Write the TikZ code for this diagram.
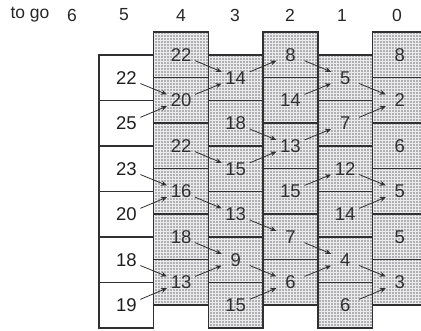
\documentclass[tikz,border=0pt]{standalone}
\usepackage{fontspec}
\setmainfont{Liberation Sans}
\usetikzlibrary{arrows.meta}
\definecolor{ink}{HTML}{303030}
\definecolor{boxgray}{HTML}{B0B0B4}
\tikzset{
  cell/.style={draw=ink, line width=1.5pt, minimum width=54.7pt, minimum height=45.5pt,
    inner sep=0pt, outer sep=0pt, anchor=north west},
  shadedcell/.style={cell, fill=boxgray,
    path picture={\draw[white, line width=0.45pt, opacity=0.75, step=3pt]
      (path picture bounding box.south west) grid (path picture bounding box.north east);}},
  plaincell/.style={cell, fill=white},
  num/.style={circle, minimum size=30pt, inner sep=0pt, font=\fontsize{18.5}{18.5}\selectfont, text=ink},
  plainnum/.style={num, text=black!88},
  arr/.style={draw=ink, line width=0.8pt, -{Stealth[length=6pt,width=5pt]}},
  hdr/.style={font=\fontsize{17.5}{17.5}\selectfont, text=black!85}
}
\begin{document}
\begin{tikzpicture}[x=1pt,y=1pt]
\useasboundingbox (0,0) rectangle (421,330);
% header
\node[hdr] (togo) at (30,315) {to go};
\node[hdr] (h6) at (72,315) {6};
\node[hdr] (h5) at (124,315) {5};
\node[hdr] (h4) at (181,315) {4};
\node[hdr] (h3) at (235,315) {3};
\node[hdr] (h2) at (290,315) {2};
\node[hdr] (h1) at (342,315) {1};
\node[hdr] (h0) at (397,315) {0};
% stage 5 (white)
\foreach \v [count=\j] in {22,25,23,20,18,19} {
  \node[plaincell] (b5-\j) at (99, {275-45.5*(\j-1)}) {};
  \node[plainnum] (n5-\j) at (b5-\j.center) {\v};
}
% shaded stages
\foreach \c/\i/\top/\vals in {
  4/1/298/{22,20,22,16,18,13},
  3/2/275/{14,18,15,13,9,15},
  2/3/298/{8,14,13,15,7,6},
  1/4/275/{5,7,12,14,4,6},
  0/5/298/{8,2,6,5,5,3}} {
  \foreach \v [count=\j] in \vals {
    \node[shadedcell] (b\c-\j) at ({99+54.7*\i}, {\top-45.5*(\j-1)}) {};
    \node[num] (n\c-\j) at (b\c-\j.center) {\v};
  }
}
% arrows
\foreach \a/\b in {
  5-1/4-2, 5-2/4-2, 5-3/4-4, 5-4/4-4, 5-5/4-6, 5-6/4-6,
  4-1/3-1, 4-2/3-1, 4-3/3-3, 4-4/3-4, 4-5/3-5, 4-6/3-5,
  3-1/2-1, 3-2/2-3, 3-3/2-3, 3-4/2-5, 3-5/2-6, 3-6/2-6,
  2-1/1-1, 2-2/1-1, 2-3/1-2, 2-4/1-3, 2-5/1-5, 2-6/1-5,
  1-1/0-2, 1-2/0-2, 1-3/0-4, 1-4/0-4, 1-5/0-6, 1-6/0-6} {
  \draw[arr] (n\a) -- (n\b);
}
\end{tikzpicture}
\end{document}
